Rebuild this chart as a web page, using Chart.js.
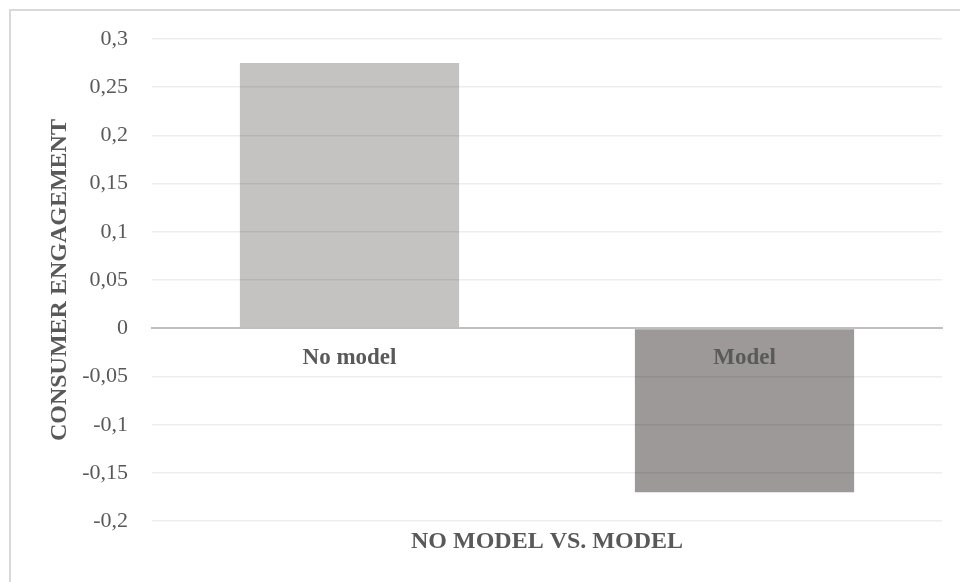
<!DOCTYPE html>
<html>
<head>
<meta charset="utf-8">
<script src="https://cdn.jsdelivr.net/npm/chart.js@4/dist/chart.umd.min.js"></script>
<style>
  html, body { margin: 0; padding: 0; background: #ffffff; }
  #wrap { position: relative; width: 960px; height: 582px; overflow: hidden; }
  #frame { position: absolute; left: 9px; top: 9px; width: 1000px; height: 1000px;
           border-left: 2px solid #d9d9d9; border-top: 2px solid #d9d9d9; }
  canvas { position: absolute; left: 0; top: 0; }
</style>
</head>
<body>
<div id="wrap">
  <div id="frame"></div>
  <canvas id="chart" width="960" height="582"></canvas>
</div>
<script>
// Mean consumer engagement per condition
const categories = ['No model', 'Model'];
const engagement = [0.275, -0.170];
const barColors = ['#c4c3c2', '#9d9998'];

// Value axis: -0.2 .. 0.3 in steps of 0.05, written with decimal commas
const yMin = -0.2;
const yMax = 0.3;
const yStep = 0.05;
const yTickLabels = ['-0,2', '-0,15', '-0,1', '-0,05', '0', '0,05', '0,1', '0,15', '0,2', '0,25', '0,3'];

const yTitle = 'CONSUMER ENGAGEMENT';
const xTitle = 'NO MODEL VS. MODEL';

const textColor = '#595959';
const serif = "'Liberation Serif', 'Times New Roman', serif";

new Chart(document.getElementById('chart'), {
  type: 'bar',
  data: {
    labels: categories,
    datasets: [{
      data: engagement,
      backgroundColor: barColors,
      borderWidth: 0,
      barPercentage: 0.555,
      categoryPercentage: 1.0
    }]
  },
  options: {
    responsive: false,
    animation: false,
    devicePixelRatio: 1,
    layout: { padding: { left: 45, right: 18, top: 39, bottom: 26 } },
    plugins: {
      legend: { display: false },
      tooltip: { enabled: false },
      title: {
        display: true,
        text: xTitle,
        position: 'bottom',
        fullSize: false,
        color: textColor,
        font: { family: serif, size: 24, weight: 'bold' },
        padding: { top: 6, bottom: 0 }
      }
    },
    scales: {
      x: {
        position: { y: 0 },
        grid: { display: false, drawTicks: false, z: 1 },
        border: { display: true, color: '#bfbfbf', width: 2, z: 1 },
        ticks: {
          z: 2,
          color: textColor,
          padding: 16,
          font: { family: serif, size: 23, weight: 'bold' }
        }
      },
      y: {
        min: yMin,
        max: yMax,
        afterFit(scale) { scale.width = 107; },
        ticks: {
          z: 1,
          stepSize: yStep,
          padding: 24,
          color: textColor,
          font: { family: serif, size: 22 },
          callback: (value, index) => yTickLabels[index]
        },
        grid: {
          z: 1,
          drawTicks: false,
          color: (ctx) => ctx.tick && Math.abs(ctx.tick.value) < 1e-9 ? '#bfbfbf' : 'rgba(0,0,0,0.07)',
          lineWidth: (ctx) => ctx.tick && Math.abs(ctx.tick.value) < 1e-9 ? 2 : 1.5
        },
        border: { display: false },
        title: {
          display: true,
          text: yTitle,
          color: textColor,
          font: { family: serif, size: 24, weight: 'bold' },
          padding: { top: 0, bottom: 0 }
        }
      }
    }
  }
});
</script>
</body>
</html>
